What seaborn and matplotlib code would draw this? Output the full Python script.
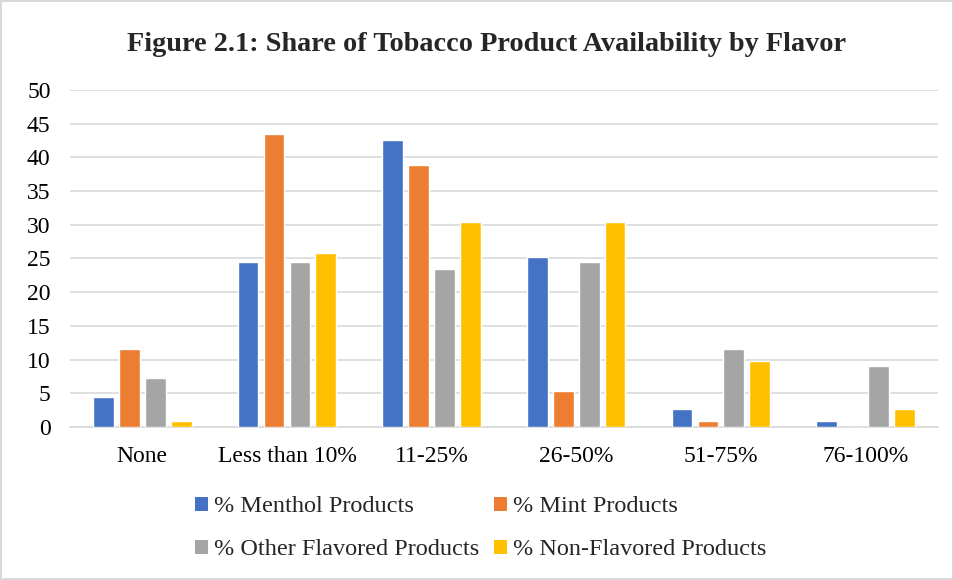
import pandas as pd
import matplotlib.pyplot as plt
import seaborn as sns

# Data
ranges = ['None', 'Less than 10%', '11-25%', '26-50%', '51-75%', '76-100%']
menthol = [4.4, 24.4, 42.6, 25.2, 2.6, 0.9]
mint = [11.6, 43.4, 38.9, 5.3, 0.9, 0.0]
other_flavored = [7.2, 24.4, 23.4, 24.4, 11.6, 9.0]
non_flavored = [0.9, 25.8, 30.4, 30.4, 9.8, 2.7]
series_names = ['% Menthol Products', '% Mint Products',
                '% Other Flavored Products', '% Non-Flavored Products']
colors = ['#4472C4', '#ED7D31', '#A5A5A5', '#FFC000']

# Long format for seaborn
rows = []
for name, vals in zip(series_names, [menthol, mint, other_flavored, non_flavored]):
    for r, v in zip(ranges, vals):
        rows.append({'Range': r, 'Share': v, 'Product': name})
df = pd.DataFrame(rows)

sns.set_style('white')
plt.rcParams['font.family'] = ['Liberation Serif', 'DejaVu Serif']

fig = plt.figure(figsize=(9.54, 5.8), dpi=100, linewidth=1.5, edgecolor='#D9D9D9')
ax = fig.add_axes([0.0734, 0.2638, 0.9096, 0.5812])

sns.barplot(data=df, x='Range', y='Share', hue='Product', order=ranges,
            hue_order=series_names, palette=colors, width=0.716, gap=0.2,
            saturation=1, ax=ax, legend=True, zorder=3)

ax.set_ylim(0, 50)
ax.set_yticks(range(0, 51, 5))
ax.set_xlim(-0.5, len(ranges) - 0.5)
ax.grid(axis='y', color='#D9D9D9', linewidth=1.2, zorder=0)
ax.set_axisbelow(True)
for side in ['top', 'right', 'left']:
    ax.spines[side].set_visible(False)
ax.spines['bottom'].set_color('#D9D9D9')
ax.spines['bottom'].set_linewidth(1.2)
ax.tick_params(axis='both', length=0, labelsize=17, colors='black')
ax.tick_params(axis='x', pad=14)
ax.tick_params(axis='y', pad=14)
ax.set_xlabel('')
ax.set_ylabel('')

fig.suptitle('Figure 2.1: Share of Tobacco Product Availability by Flavor',
             fontsize=20.3, fontweight='bold', x=0.51, y=0.945)

# Legend: row 1 Menthol, Mint; row 2 Other, Non-Flavored
handles, labels = ax.get_legend_handles_labels()
ax.get_legend().remove()
order = [0, 2, 1, 3]
leg = fig.legend([handles[i] for i in order], [labels[i] for i in order],
                 ncol=2, loc='center', bbox_to_anchor=(0.504, 0.089), frameon=False,
                 fontsize=17.5, handlelength=0.55, handleheight=0.5,
                 handletextpad=0.25, columnspacing=0.6, labelspacing=0.9)
for h in leg.legend_handles:
    h.set_linewidth(0)

plt.savefig('out.png', dpi=100)
